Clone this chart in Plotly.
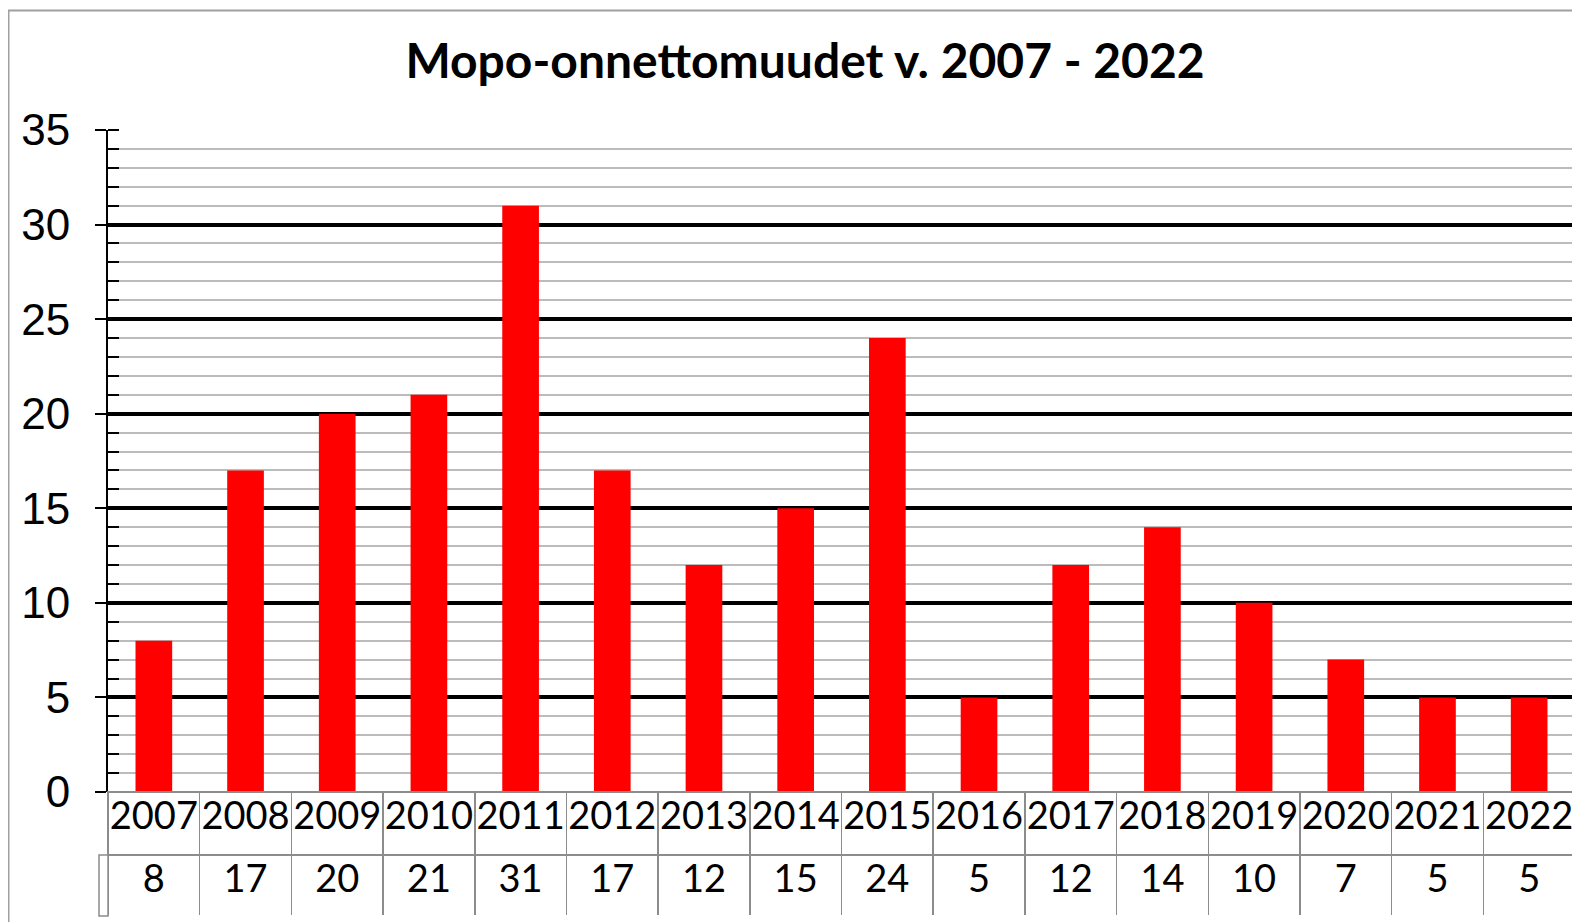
import plotly.graph_objects as go

years = ["2007", "2008", "2009", "2010", "2011", "2012", "2013", "2014",
         "2015", "2016", "2017", "2018", "2019", "2020", "2021", "2022"]
values = [8, 17, 20, 21, 31, 17, 12, 15, 24, 5, 12, 14, 10, 7, 5, 5]
title_text = "Mopo-onnettomuudet v. 2007 - 2022"
y_ticks = [0, 5, 10, 15, 20, 25, 30, 35]

# page body has an 8px margin; figure is sized so it ends at the window edge
OFF = 8
W, H = 1580 - OFF, 922 - OFF


def px(x):
    return (x - OFF) / W


def py(y):
    return 1 - (y - OFF) / H


x0, x1 = px(108), px(1575)

fig = go.Figure()

fig.add_trace(go.Bar(
    x=years, y=values,
    marker=dict(color="#ff0000", line=dict(width=0)),
    width=0.4,
    hoverinfo="x+y",
))

tbl_font = dict(family="Lato, Open Sans, sans-serif", size=38, color="black")
fig.add_trace(go.Table(
    domain=dict(x=[x0, x1], y=[py(916), py(792)]),
    columnwidth=[1] * len(years),
    header=dict(
        values=years,
        height=63,
        align="center",
        line=dict(color="#8c8c8c", width=1.5),
        fill=dict(color="white"),
        font=tbl_font,
    ),
    cells=dict(
        values=[[v] for v in values],
        height=61,
        align="center",
        line=dict(color="#8c8c8c", width=1.5),
        fill=dict(color="white"),
        font=tbl_font,
    ),
))

fig.update_layout(
    width=W, height=H,
    autosize=False,
    margin=dict(l=0, r=0, t=0, b=0, pad=0, autoexpand=False),
    paper_bgcolor="white",
    plot_bgcolor="white",
    showlegend=False,
    title=dict(
        text="<b>" + title_text + "</b>",
        x=px(805), xanchor="center",
        y=py(61), yanchor="middle",
        font=dict(family="Lato, Open Sans, sans-serif", size=48, color="black"),
    ),
    xaxis=dict(
        domain=[x0, x1],
        type="category",
        range=[-0.5, len(years) - 0.5],
        showticklabels=False,
        showgrid=False,
        zeroline=False,
        showline=False,
        ticks="",
        automargin=False,
    ),
    yaxis=dict(
        domain=[py(792), py(130)],
        range=[0, 35],
        tickvals=y_ticks,
        ticks="outside",
        ticklen=11,
        tickwidth=2,
        tickcolor="black",
        ticklabelstandoff=16,
        tickfont=dict(family="Liberation Sans, Arial, sans-serif", size=44, color="black"),
        showline=True,
        linecolor="black",
        linewidth=2,
        showgrid=True,
        gridcolor="black",
        gridwidth=3.5,
        zeroline=False,
        automargin=False,
        minor=dict(
            dtick=1,
            showgrid=True,
            gridcolor="#bcbcbc",
            gridwidth=1.8,
            ticks="inside",
            ticklen=11,
            tickwidth=2,
            tickcolor="black",
        ),
    ),
    shapes=[
        dict(type="rect", xref="paper", yref="paper",
             x0=px(8.5), x1=1.05, y0=-0.05, y1=py(10.5),
             line=dict(color="#a0a0a0", width=2), fillcolor="rgba(0,0,0,0)",
             layer="below"),
        dict(type="rect", xref="paper", yref="paper",
             x0=px(99), x1=x0, y0=py(916), y1=py(855),
             line=dict(color="#8c8c8c", width=1.5), fillcolor="white"),
    ],
)

fig.write_html("out.html")
